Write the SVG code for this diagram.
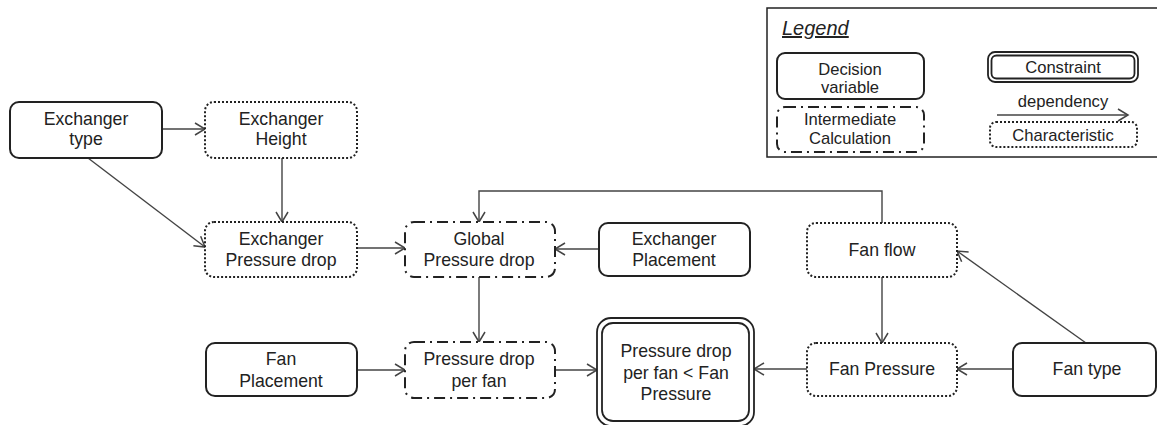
<svg xmlns="http://www.w3.org/2000/svg" width="1157" height="425" viewBox="0 0 1157 425">
<style>
text{font-family:"Liberation Sans",Arial,sans-serif;fill:#222;text-anchor:middle}
.t{font-size:17.7px}
.l{font-size:16.6px}
.dec{fill:#fff;stroke:#222;stroke-width:2}
.chr{fill:#fff;stroke:#222;stroke-width:2;stroke-dasharray:2 2}
.mid{fill:#fff;stroke:#222;stroke-width:2;stroke-dasharray:11 5 2 5}
.con{fill:#fff;stroke:#222;stroke-width:1.8}
.e{fill:none;stroke:#444;stroke-width:1.4;marker-end:url(#a)}
</style>
<defs>
<marker id="a" markerUnits="userSpaceOnUse" markerWidth="14" markerHeight="14" refX="11" refY="7" orient="auto">
<path d="M1,1 L11,7 L1,13" fill="none" stroke="#444" stroke-width="1.5"/>
</marker>
</defs>
<rect width="1157" height="425" fill="#fff"/>

<g id="legend">
<rect x="767" y="8" width="395" height="149" fill="#fff" stroke="#222" stroke-width="1.5"/>
<text x="782" y="35" style="font-size:20px;font-style:italic;text-anchor:start;text-decoration:underline">Legend</text>
<rect class="dec" x="777" y="53" width="147" height="46" rx="8"/>
<text class="l" x="850" y="75">Decision</text>
<text class="l" x="850" y="93">variable</text>
<rect class="mid" x="777" y="107" width="147" height="45" rx="8"/>
<text class="l" x="850" y="125">Intermediate</text>
<text class="l" x="850" y="144">Calculation</text>
<rect class="con" x="988" y="52" width="150" height="30" rx="7"/>
<rect class="con" x="991.5" y="55.5" width="143" height="23" rx="5"/>
<text class="l" x="1063" y="73">Constraint</text>
<text class="l" x="1063" y="107">dependency</text>
<line class="e" x1="997" y1="115" x2="1128" y2="115"/>
<rect class="chr" x="990" y="122" width="147" height="25" rx="6"/>
<text class="l" x="1063" y="141">Characteristic</text>
</g>

<g id="connectors">
<line class="e" x1="162" y1="129" x2="205" y2="129"/>
<line class="e" x1="88" y1="158" x2="205" y2="247"/>
<line class="e" x1="282" y1="158" x2="282" y2="222"/>
<line class="e" x1="357" y1="248" x2="405" y2="248"/>
<line class="e" x1="599" y1="249" x2="555" y2="249"/>
<path class="e" d="M882,223 V191 H479 V222"/>
<line class="e" x1="479" y1="277" x2="479" y2="342"/>
<line class="e" x1="357" y1="370" x2="405" y2="370"/>
<line class="e" x1="555" y1="370" x2="597" y2="370"/>
<line class="e" x1="807" y1="369" x2="754" y2="369"/>
<line class="e" x1="882" y1="277" x2="882" y2="343"/>
<line class="e" x1="1013" y1="369" x2="957" y2="369"/>
<line class="e" x1="1086" y1="343" x2="957" y2="251"/>
</g>

<g id="exchanger-type">
<rect class="dec" x="10" y="102" width="152" height="56" rx="9"/>
<text class="t" x="86" y="125">Exchanger</text>
<text class="t" x="86" y="145">type</text>
</g>
<g id="exchanger-height">
<rect class="chr" x="205" y="102" width="152" height="56" rx="9"/>
<text class="t" x="281" y="125">Exchanger</text>
<text class="t" x="281" y="145">Height</text>
</g>
<g id="exchanger-pressure-drop">
<rect class="chr" x="205" y="222" width="152" height="55" rx="9"/>
<text class="t" x="281" y="245">Exchanger</text>
<text class="t" x="281" y="266">Pressure drop</text>
</g>
<g id="global-pressure-drop">
<rect class="mid" x="405" y="222" width="150" height="55" rx="9"/>
<text class="t" x="479" y="245">Global</text>
<text class="t" x="479" y="266">Pressure drop</text>
</g>
<g id="exchanger-placement">
<rect class="dec" x="599" y="223" width="151" height="53" rx="9"/>
<text class="t" x="674" y="245">Exchanger</text>
<text class="t" x="674" y="266">Placement</text>
</g>
<g id="fan-flow">
<rect class="chr" x="807" y="223" width="150" height="54" rx="9"/>
<text class="t" x="882" y="256">Fan flow</text>
</g>
<g id="fan-placement">
<rect class="dec" x="206" y="343" width="151" height="53" rx="9"/>
<text class="t" x="281" y="365">Fan</text>
<text class="t" x="281" y="387">Placement</text>
</g>
<g id="pressure-drop-per-fan">
<rect class="mid" x="405" y="342" width="150" height="56" rx="9"/>
<text class="t" x="479" y="365">Pressure drop</text>
<text class="t" x="479" y="387">per fan</text>
</g>
<g id="constraint">
<rect class="con" x="597" y="318" width="157" height="108" rx="14"/>
<rect class="con" x="602" y="323" width="147" height="98" rx="11"/>
<text class="t" x="676" y="357">Pressure drop</text>
<text class="t" x="676" y="379">per fan &lt; Fan</text>
<text class="t" x="676" y="400">Pressure</text>
</g>
<g id="fan-pressure">
<rect class="chr" x="807" y="343" width="150" height="53" rx="9"/>
<text class="t" x="882" y="375">Fan Pressure</text>
</g>
<g id="fan-type">
<rect class="dec" x="1013" y="343" width="143" height="53" rx="9"/>
<text class="t" x="1087" y="375">Fan type</text>
</g>
</svg>
